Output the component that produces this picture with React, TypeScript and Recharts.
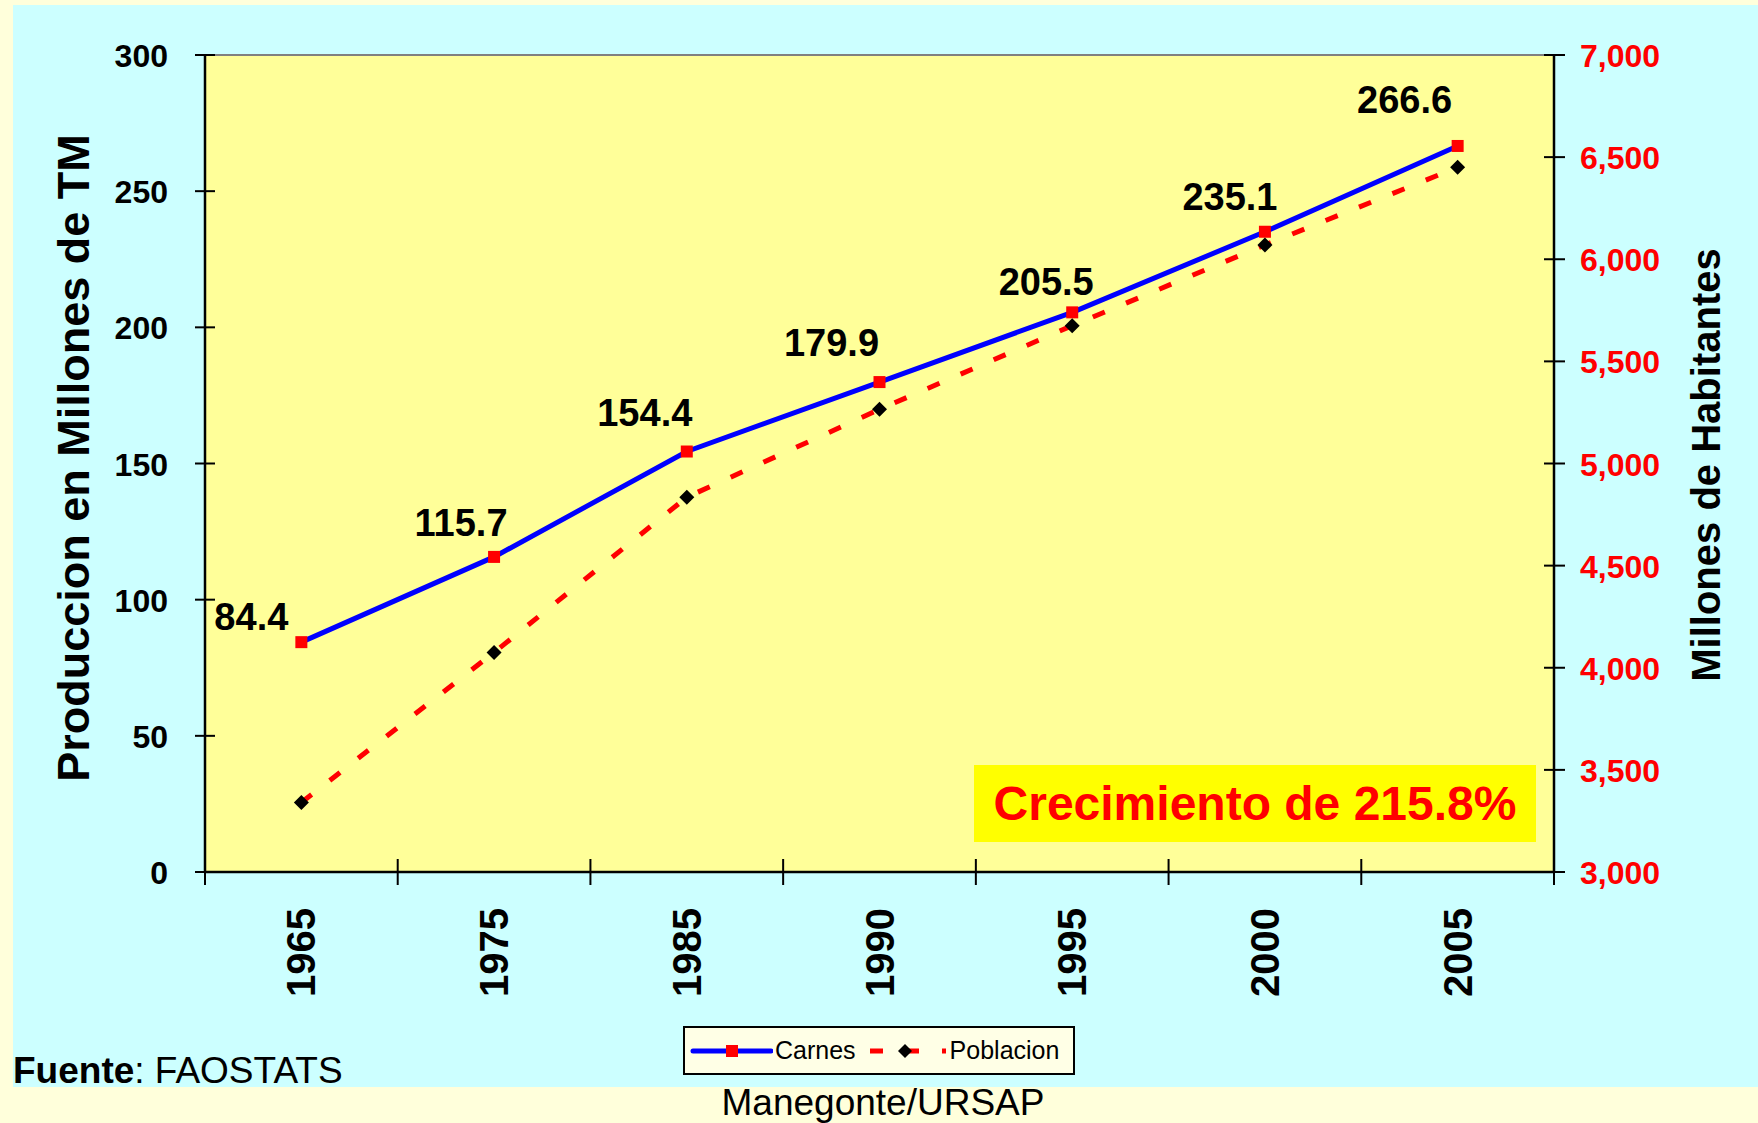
import React from "react";
import {
  ComposedChart,
  Line,
  XAxis,
  YAxis,
  ReferenceArea,
  ReferenceLine,
  LabelList,
  Label,
  Legend,
} from "recharts";

// datos
const years = ["1965", "1975", "1985", "1990", "1995", "2000", "2005"];
const carnes = [84.4, 115.7, 154.4, 179.9, 205.5, 235.1, 266.6];
const poblacion = [3340, 4075, 4835, 5265, 5675, 6070, 6450];

const leftTicks = [0, 50, 100, 150, 200, 250, 300];
const rightTicks = [3000, 3500, 4000, 4500, 5000, 5500, 6000, 6500, 7000];

// desplazamiento de cada etiqueta respecto a su punto (px)
const labelOffsets = [
  [-50, -12],
  [-33, -21],
  [-42, -26],
  [-48, -26],
  [-26, -17],
  [-35, -22],
  [-53, -33],
];

const chartData = years.map((year, i) => ({
  year,
  carnes: carnes[i],
  poblacion: poblacion[i],
}));

const FONT = '"Liberation Sans", Arial, Helvetica, sans-serif';
const W = 1758;
const H = 1123;
const PLOT_LEFT = 205;
const PLOT_RIGHT = 1554;
const PLOT_TOP = 55;
const PLOT_BOTTOM = 872;
const AXIS_W = 80;
const X_AXIS_H = 100;
const BAND = (PLOT_RIGHT - PLOT_LEFT) / years.length;

const LeftTick = (props: any) => {
  const { x, y, payload } = props;
  return (
    <g>
      <line x1={x - 10} x2={x + 10} y1={y} y2={y} stroke="#000" strokeWidth={2} />
      <text x={x - 37} y={y + 12} textAnchor="end" fontSize={32} fontWeight={700} fill="#000" fontFamily={FONT}>
        {payload.value}
      </text>
    </g>
  );
};

const RightTick = (props: any) => {
  const { x, y, payload } = props;
  return (
    <g>
      <line x1={x - 10} x2={x + 11} y1={y} y2={y} stroke="#000" strokeWidth={2} />
      <text x={x + 26} y={y + 12} textAnchor="start" fontSize={32} fontWeight={700} fill="#FF0000" fontFamily={FONT}>
        {Number(payload.value).toLocaleString("en-US")}
      </text>
    </g>
  );
};

const XTick = (props: any) => {
  const { x, y, payload, index } = props;
  const half = BAND / 2;
  return (
    <g>
      <line x1={x - half} x2={x - half} y1={y - 13} y2={y + 13} stroke="#000" strokeWidth={2} />
      {index === years.length - 1 && (
        <line x1={x + half} x2={x + half} y1={y - 13} y2={y + 13} stroke="#000" strokeWidth={2} />
      )}
      <text
        transform={`translate(${x},${y + 36}) rotate(-90)`}
        textAnchor="end"
        dy={14}
        fontSize={40}
        fontWeight={700}
        fill="#000"
        fontFamily={FONT}
      >
        {payload.value}
      </text>
    </g>
  );
};

const SquareDot = (p: any) => (
  <rect key={`sq-${p.index}`} x={p.cx - 6} y={p.cy - 6} width={12} height={12} fill="#FF0000" />
);

const DiamondDot = (p: any) => (
  <polygon
    key={`dm-${p.index}`}
    points={`${p.cx},${p.cy - 7.5} ${p.cx + 7.5},${p.cy} ${p.cx},${p.cy + 7.5} ${p.cx - 7.5},${p.cy}`}
    fill="#000"
  />
);

const CarnesLabel = (p: any) => {
  const [dx, dy] = labelOffsets[p.index] || [0, 0];
  return (
    <text x={p.x + dx} y={p.y + dy} textAnchor="middle" fontSize={38} fontWeight={700} fill="#000" fontFamily={FONT}>
      {p.value}
    </text>
  );
};

const LegendBox = (props: any) => {
  const { payload = [] } = props;
  return (
    <div
      style={{
        width: 392,
        height: 49,
        boxSizing: "border-box",
        border: "2px solid #000",
        background: "#FFFFE6",
        display: "flex",
        alignItems: "center",
        fontFamily: FONT,
        fontSize: 25,
        color: "#000",
        whiteSpace: "nowrap",
      }}
    >
      {payload.map((entry: any) => (
        <div key={entry.dataKey} style={{ display: "flex", alignItems: "center" }}>
          {entry.dataKey === "carnes" ? (
            <svg width={84} height={20} style={{ marginLeft: 4 }}>
              <line x1={4} x2={82} y1={10} y2={10} stroke="#0000FF" strokeWidth={5} strokeLinecap="round" />
              <rect x={37} y={4} width={12} height={12} fill="#FF0000" />
            </svg>
          ) : (
            <svg width={80} height={20} style={{ marginLeft: 12 }}>
              <line x1={2} x2={78} y1={10} y2={10} stroke="#FF0000" strokeWidth={5} strokeDasharray="13 23" />
              <polygon points="37,3 44,10 37,17 30,10" fill="#000" />
            </svg>
          )}
          <span style={{ marginLeft: 2 }}>{entry.value}</span>
        </div>
      ))}
    </div>
  );
};

export default function App() {
  return (
    <div
      style={{
        position: "absolute",
        left: 0,
        top: 0,
        width: W,
        height: H,
        background: "#FFFFDB",
        overflow: "hidden",
        fontFamily: FONT,
      }}
    >
      <div style={{ position: "absolute", left: 13, top: 5, width: W - 13, height: 1082, background: "#CCFFFF" }} />
      <div style={{ position: "absolute", left: 0, top: 0 }}>
        <ComposedChart
          width={W}
          height={H}
          data={chartData}
          margin={{
            top: PLOT_TOP,
            left: PLOT_LEFT - AXIS_W,
            right: W - PLOT_RIGHT - AXIS_W,
            bottom: H - PLOT_BOTTOM - X_AXIS_H,
          }}
        >
          <ReferenceArea yAxisId="left" y1={0} y2={300} fill="#FFFF99" fillOpacity={1} stroke="none" />
          <ReferenceLine yAxisId="left" y={300} stroke="#808080" strokeWidth={2} />
          <XAxis
            dataKey="year"
            scale="band"
            height={X_AXIS_H}
            interval={0}
            tickSize={0}
            tickMargin={0}
            tickLine={false}
            axisLine={{ stroke: "#000", strokeWidth: 2.5 }}
            tick={XTick}
          />
          <YAxis
            yAxisId="left"
            orientation="left"
            width={AXIS_W}
            domain={[0, 300]}
            ticks={leftTicks}
            interval={0}
            tickSize={0}
            tickMargin={0}
            tickLine={false}
            axisLine={{ stroke: "#000", strokeWidth: 2.5 }}
            tick={LeftTick}
          >
            <Label
              content={() => (
                <text
                  x={73}
                  y={458}
                  transform="rotate(-90 73 458)"
                  textAnchor="middle"
                  dominantBaseline="central"
                  fontSize={45}
                  fontWeight={700}
                  fill="#000"
                  fontFamily={FONT}
                >
                  Produccion en Millones de TM
                </text>
              )}
            />
          </YAxis>
          <YAxis
            yAxisId="right"
            orientation="right"
            width={AXIS_W}
            domain={[3000, 7000]}
            ticks={rightTicks}
            interval={0}
            tickSize={0}
            tickMargin={0}
            tickLine={false}
            axisLine={{ stroke: "#000", strokeWidth: 2.5 }}
            tick={RightTick}
          >
            <Label
              content={() => (
                <text
                  x={1706}
                  y={465}
                  transform="rotate(-90 1706 465)"
                  textAnchor="middle"
                  dominantBaseline="central"
                  fontSize={40}
                  fontWeight={700}
                  fill="#000"
                  fontFamily={FONT}
                >
                  Millones de Habitantes
                </text>
              )}
            />
          </YAxis>
          <Legend
            layout="horizontal"
            verticalAlign="middle"
            align="center"
            content={LegendBox}
            wrapperStyle={{ left: 683, top: 1026, width: 392, height: 49 }}
          />
          <Line
            yAxisId="left"
            type="linear"
            dataKey="carnes"
            name="Carnes"
            stroke="#0000FF"
            strokeWidth={5}
            dot={SquareDot}
            activeDot={false}
            isAnimationActive={false}
          >
            <LabelList dataKey="carnes" content={CarnesLabel} />
          </Line>
          <Line
            yAxisId="right"
            type="linear"
            dataKey="poblacion"
            name="Poblacion"
            stroke="#FF0000"
            strokeWidth={5}
            strokeDasharray="13 23"
            dot={DiamondDot}
            activeDot={false}
            isAnimationActive={false}
          />
        </ComposedChart>
      </div>
      <div
        style={{
          position: "absolute",
          left: 974,
          top: 765,
          width: 562,
          height: 77,
          background: "#FFFF00",
          color: "#FF0000",
          fontWeight: 700,
          fontSize: 48,
          display: "flex",
          alignItems: "center",
          justifyContent: "center",
          whiteSpace: "nowrap",
        }}
      >
        Crecimiento de 215.8%
      </div>
      <div style={{ position: "absolute", left: 13, top: 1052, fontSize: 37, lineHeight: "37px", color: "#000", whiteSpace: "nowrap" }}>
        <b>Fuente</b>: FAOSTATS
      </div>
      <div
        style={{
          position: "absolute",
          left: 583,
          top: 1084,
          width: 600,
          textAlign: "center",
          fontSize: 37,
          lineHeight: "37px",
          color: "#000",
          whiteSpace: "nowrap",
        }}
      >
        Manegonte/URSAP
      </div>
    </div>
  );
}
